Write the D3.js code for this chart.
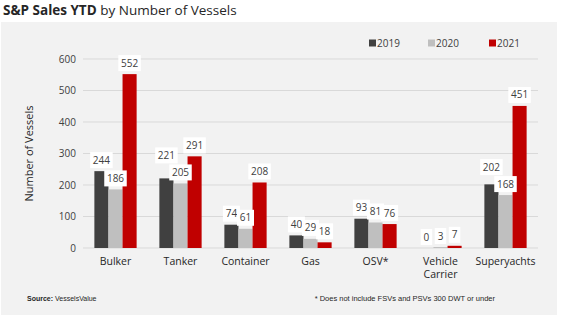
<!DOCTYPE html>
<html>
<head>
<meta charset="utf-8">
<script src="https://cdn.jsdelivr.net/npm/d3@7"></script>
<style>
body { margin: 0; background: #fff; }
svg { display: block; font-family: "Open Sans", sans-serif; }
</style>
</head>
<body>
<div id="chart"></div>
<script>
(function(){
"use strict";

var categories = ["Bulker", "Tanker", "Container", "Gas", "OSV*", "Vehicle\nCarrier", "Superyachts"];
var years = ["2019", "2020", "2021"];
var sales2019 = [244, 221, 74, 40, 93, 0, 202];
var sales2020 = [186, 205, 61, 29, 81, 3, 168];
var sales2021 = [552, 291, 208, 18, 76, 7, 451];
var yTicks = [0, 100, 200, 300, 400, 500, 600];
var colors = ["#404040", "#bfbfbf", "#c00000"];

var series = [sales2019, sales2020, sales2021];
var width = 566, height = 321;
var margin = {top: 59, right: 28, bottom: 73, left: 83};
var plotW = width - margin.left - margin.right;
var plotH = height - margin.top - margin.bottom;

var svg = d3.select('#chart')
	.append('svg')
		.attr('width', width)
		.attr('height', height);

// panel background
svg.append('rect')
	.attr('x', 1).attr('y', 22)
	.attr('width', 556).attr('height', 293)
	.attr('fill', '#f2f2f2');

// title
var title = svg.append('text')
	.attr('x', 3).attr('y', 15)
	.attr('font-size', 13.5)
	.attr('fill', '#262626');
title.append('tspan').attr('font-weight', 'bold').text('S&P Sales YTD');
title.append('tspan').text(' by Number of Vessels');

var g = svg.append('g')
	.attr('transform', 'translate(' + margin.left + ',' + margin.top + ')');

var x = d3.scaleBand()
	.domain(categories)
	.range([0, plotW])
	.paddingInner(0.35)
	.paddingOuter(0.175);
var x1 = d3.scaleBand()
	.domain(years)
	.range([0, x.bandwidth()]);
var y = d3.scaleLinear()
	.domain([0, 600])
	.range([plotH, 0]);

// grid
g.append('g')
	.selectAll('line')
	.data(yTicks)
	.enter()
	.append('line')
		.attr('x1', 0).attr('x2', plotW)
		.attr('y1', function(d){ return y(d); })
		.attr('y2', function(d){ return y(d); })
		.attr('stroke', '#d9d9d9')
		.attr('stroke-width', 1);

var yAxis = d3.axisLeft(y).tickValues(yTicks).tickSize(0).tickPadding(7);
g.append('g')
	.call(yAxis)
	.call(function(s){ s.select('.domain').remove(); })
	.selectAll('text')
		.attr('font-size', 10)
		.attr('font-family', '"Open Sans", sans-serif')
		.attr('fill', '#404040');

svg.append('text')
	.attr('transform', 'translate(33,' + (margin.top + plotH / 2) + ') rotate(-90)')
	.attr('text-anchor', 'middle')
	.attr('font-size', 11)
	.attr('fill', '#262626')
	.text('Number of Vessels');

// category labels
var cat = g.append('g')
	.selectAll('text')
	.data(categories)
	.enter()
	.append('text')
		.attr('x', function(d){ return x(d) + x.bandwidth() / 2; })
		.attr('y', plotH + 17)
		.attr('text-anchor', 'middle')
		.attr('font-size', 10.5)
		.attr('fill', '#262626');
cat.selectAll('tspan')
	.data(function(d){ return d.split('\n'); })
	.enter()
	.append('tspan')
		.attr('x', function(){ var p = d3.select(this.parentNode).datum(); return x(p) + x.bandwidth() / 2; })
		.attr('dy', function(d, i){ return i === 0 ? 0 : 13; })
		.text(function(d){ return d; });

// bars
series.forEach(function(vals, si){
	g.append('g')
		.selectAll('rect')
		.data(vals)
		.enter()
		.append('rect')
			.attr('x', function(d, i){ return x(categories[i]) + x1(years[si]); })
			.attr('width', x1.bandwidth())
			.attr('y', function(d){ return y(d); })
			.attr('height', function(d){ return plotH - y(d); })
			.attr('fill', colors[si]);
});

// data labels, push the left one up when 3-digit boxes collide
var labels = [];
categories.forEach(function(c, ci){
	var grp = series.map(function(vals, si){
		var txt = String(vals[ci]);
		var w = txt.length * 5.5 + 6;
		return {
			text: txt,
			cx: x(c) + x1(years[si]) + x1.bandwidth() / 2,
			cy: y(vals[ci]) - 11,
			w: w
		};
	});
	for (var i = grp.length - 2; i >= 0; i--) {
		var a = grp[i], b = grp[i + 1];
		var hOver = (a.cx + a.w / 2) - (b.cx - b.w / 2);
		if (hOver > 5 && Math.abs(a.cy - b.cy) < 17) {
			a.cy = Math.min(a.cy, b.cy - 17);
		}
	}
	labels = labels.concat(grp);
});

var lab = g.append('g')
	.selectAll('g')
	.data(labels)
	.enter()
	.append('g');
lab.append('rect')
	.attr('x', function(d){ return d.cx - d.w / 2; })
	.attr('y', function(d){ return d.cy - 8; })
	.attr('width', function(d){ return d.w; })
	.attr('height', 16)
	.attr('fill', '#ffffff');
lab.append('text')
	.attr('x', function(d){ return d.cx; })
	.attr('y', function(d){ return d.cy; })
	.attr('dy', '0.35em')
	.attr('text-anchor', 'middle')
	.attr('font-size', 10)
	.attr('fill', '#404040')
	.text(function(d){ return d.text; });

// legend
var legX = [369, 428, 489];
var leg = svg.append('g')
	.selectAll('g')
	.data(years)
	.enter()
	.append('g')
		.attr('transform', function(d, i){ return 'translate(' + legX[i] + ',43)'; });
leg.append('rect')
	.attr('x', 0).attr('y', -3.5)
	.attr('width', 7).attr('height', 7)
	.attr('fill', function(d, i){ return colors[i]; });
leg.append('text')
	.attr('x', 8)
	.attr('dy', '0.35em')
	.attr('font-size', 10)
	.attr('fill', '#404040')
	.text(function(d){ return d; });

// footer
var src = svg.append('text')
	.attr('x', 27).attr('y', 301)
	.attr('font-size', 7)
	.attr('font-family', '"Liberation Sans", sans-serif')
	.attr('fill', '#262626');
src.append('tspan').attr('font-weight', 'bold').text('Source:');
src.append('tspan').text(' VesselsValue');

svg.append('text')
	.attr('x', 495).attr('y', 301)
	.attr('text-anchor', 'end')
	.attr('font-size', 7.5)
	.attr('font-family', '"Liberation Sans", sans-serif')
	.attr('fill', '#262626')
	.text('* Does not include FSVs and PSVs 300 DWT or under');
})();
</script>
</body>
</html>
